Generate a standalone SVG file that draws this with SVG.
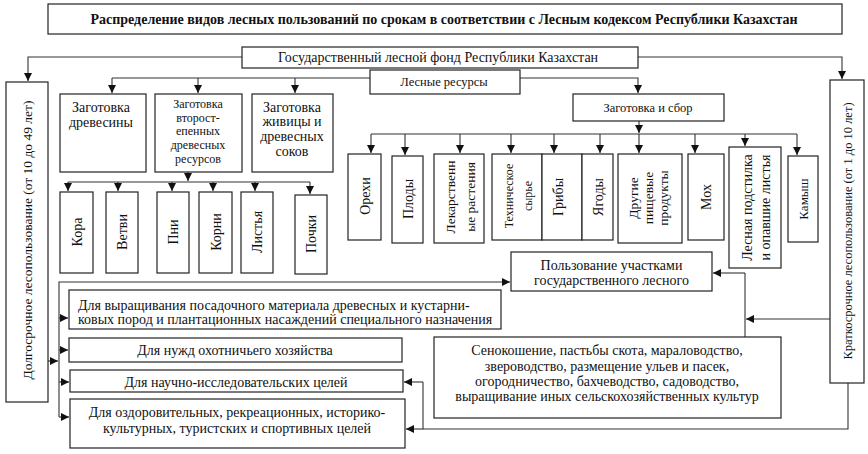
<svg xmlns="http://www.w3.org/2000/svg" width="868" height="454" viewBox="0 0 868 454" font-family="'Liberation Serif', 'DejaVu Serif', serif">
<defs>
<marker id="ah" markerUnits="userSpaceOnUse" markerWidth="8" markerHeight="8" refX="8" refY="4" orient="auto">
<path d="M0,0 L8,4 L0,8 z" fill="#111"/>
</marker>
<style>
rect{fill:#fff;stroke:#222;stroke-width:1.2}
text{font-family:'Liberation Serif','DejaVu Serif',serif;fill:#111;font-size:14px}
.c{text-anchor:middle}
.s{font-size:12.5px}
.b{font-weight:bold}
.t{font-size:12px}
#connectors path{fill:none;stroke:#333;stroke-width:1.1}
#connectors .a{marker-end:url(#ah)}
</style>
</defs>
<rect x="0" y="0" width="868" height="454" style="fill:#fff;stroke:none"/>

<g id="connectors">
<path class="a" d="M242,57 H28 V81"/>
<path class="a" d="M638,57 H842 V79"/>
<path d="M370,78 H112"/>
<path class="a" d="M112,78 V93"/>
<path class="a" d="M198,78 V93"/>
<path class="a" d="M295,78 V93"/>
<path class="a" d="M520,78 H638 V93"/>
<path class="a" d="M188,172 V181"/>
<path d="M68,182 H310"/>
<path class="a" d="M68,182 V191"/>
<path class="a" d="M118,182 V191"/>
<path class="a" d="M172,182 V191"/>
<path class="a" d="M213,182 V191"/>
<path class="a" d="M255,182 V191"/>
<path class="a" d="M310,182 V194"/>
<path class="a" d="M639,121 V133"/>
<path d="M371,134 H797"/>
<path class="a" d="M371,134 V153"/>
<path class="a" d="M405,134 V155"/>
<path class="a" d="M460,134 V153"/>
<path class="a" d="M511,134 V153"/>
<path class="a" d="M554,134 V153"/>
<path class="a" d="M600,134 V153"/>
<path class="a" d="M639,134 V153"/>
<path class="a" d="M695,134 V153"/>
<path class="a" d="M745,134 V146"/>
<path class="a" d="M797,134 V155"/>
<path class="a" d="M59,417 V282 H510"/>
<path class="a" d="M48,361 H58"/>
<path class="a" d="M59,318 H68"/>
<path class="a" d="M59,350 H68"/>
<path class="a" d="M59,382 H69"/>
<path class="a" d="M59,417 H69"/>
<path class="a" d="M830,319 H746"/>
<path d="M745,337 V273"/>
<path class="a" d="M745,273 H713"/>
<path d="M848,383 V429 H423 V382"/>
<path class="a" d="M423,382 H404"/>
<path class="a" d="M423,429 H406"/>
</g>

<g id="title"><rect x="48" y="4" width="794" height="30"/><text class="c b" x="444" y="24">Распределение видов лесных пользований по срокам в соответствии с Лесным кодексом Республики Казахстан</text></g>
<g id="glf"><rect x="242" y="47" width="396" height="21"/><text class="c" x="438" y="62">Государственный лесной фонд Республики Казахстан</text></g>
<g id="lr"><rect x="370" y="70" width="150" height="24"/><text class="c s" x="444" y="86">Лесные ресурсы</text></g>
<g id="zs"><rect x="573" y="94" width="151" height="27"/><text class="c s" x="648" y="112">Заготовка и сбор</text></g>

<g id="long"><rect x="6" y="82" width="42" height="320"/><text class="c" style="font-size:13.5px" transform="translate(27,240) rotate(-90)" y="5">Долгосрочное лесопользование (от 10 до 49 лет)</text></g>
<g id="short"><rect x="830" y="80" width="34" height="303"/><text class="c s" transform="translate(847,231) rotate(-90)" y="4.5">Краткосрочное лесопользование (от 1 до 10 лет)</text></g>

<g id="zd"><rect x="60" y="94" width="86" height="78"/><text class="c" x="101" y="112">Заготовка</text><text class="c" x="101" y="127">древесины</text></g>
<g id="zv"><rect x="155" y="94" width="87" height="78"/><text class="c t" x="198" y="108">Заготовка</text><text class="c t" x="198" y="121.7">второст-</text><text class="c t" x="198" y="135.4">епенных</text><text class="c t" x="198" y="149.1">древесных</text><text class="c t" x="198" y="162.8">ресурсов</text></g>
<g id="zj"><rect x="252" y="94" width="81" height="78"/><text class="c" x="292" y="112">Заготовка</text><text class="c" x="292" y="126">живицы и</text><text class="c" x="292" y="141">древесных</text><text class="c" x="292" y="156">соков</text></g>

<g id="kora"><rect x="60" y="192" width="33" height="81"/><text class="c" transform="translate(76.5,232) rotate(-90)" y="5">Кора</text></g>
<g id="vetvi"><rect x="106" y="192" width="32" height="81"/><text class="c" transform="translate(122,232) rotate(-90)" y="5">Ветви</text></g>
<g id="pni"><rect x="157" y="192" width="32" height="81"/><text class="c" transform="translate(173,232) rotate(-90)" y="5">Пни</text></g>
<g id="korni"><rect x="199" y="192" width="33" height="81"/><text class="c" transform="translate(215.5,232) rotate(-90)" y="5">Корни</text></g>
<g id="listya"><rect x="241" y="192" width="32" height="81"/><text class="c" transform="translate(257,232) rotate(-90)" y="5">Листья</text></g>
<g id="pochki"><rect x="295" y="195" width="32" height="79"/><text class="c" transform="translate(311,234) rotate(-90)" y="5">Почки</text></g>

<g id="orehi"><rect x="348" y="154" width="33" height="86"/><text class="c" transform="translate(364.5,196) rotate(-90)" y="5">Орехи</text></g>
<g id="plody"><rect x="392" y="156" width="31" height="87"/><text class="c" transform="translate(407.5,199) rotate(-90)" y="5">Плоды</text></g>
<g id="lek"><rect x="434" y="154" width="50" height="89"/><text class="c" style="font-size:13.5px" transform="translate(450,197) rotate(-90)" y="5">Лекарственн</text><text class="c" style="font-size:13.5px" transform="translate(470,197) rotate(-90)" y="5">ые растения</text></g>
<g id="tech"><rect x="492" y="154" width="50" height="86"/><text class="c" style="font-size:12px" transform="translate(508,196) rotate(-90)" y="4.5">Техническое</text><text class="c" style="font-size:12px" transform="translate(527,196) rotate(-90)" y="4.5">сырье</text></g>
<g id="griby"><rect x="542" y="154" width="40" height="86"/><text class="c" transform="translate(558,197) rotate(-90)" y="5">Грибы</text></g>
<g id="yagody"><rect x="582" y="154" width="31" height="86"/><text class="c" transform="translate(597.5,197) rotate(-90)" y="5">Ягоды</text></g>
<g id="drugie"><rect x="618" y="154" width="64" height="89"/><text class="c" style="font-size:13.5px" transform="translate(633,198) rotate(-90)" y="5">Другие</text><text class="c" style="font-size:13.5px" transform="translate(648,198) rotate(-90)" y="5">пищевые</text><text class="c" style="font-size:13.5px" transform="translate(663,198) rotate(-90)" y="5">продукты</text></g>
<g id="moh"><rect x="688" y="154" width="36" height="86"/><text class="c" transform="translate(706,197) rotate(-90)" y="5">Мох</text></g>
<g id="podst"><rect x="729" y="147" width="52" height="121"/><text class="c" transform="translate(747,207.5) rotate(-90)" y="5">Лесная подстилка</text><text class="c" transform="translate(765,207.5) rotate(-90)" y="5">и опавшие листья</text></g>
<g id="kamysh"><rect x="788" y="156" width="30" height="86"/><text class="c" style="font-size:13px" transform="translate(803,199) rotate(-90)" y="4.5">Камыш</text></g>

<g id="polz"><rect x="511" y="252" width="201" height="39"/><text class="c" x="611.5" y="270">Пользование участками</text><text class="c" x="611.5" y="285">государственного лесного</text></g>
<g id="vyr"><rect x="69" y="290" width="432" height="39"/><text x="78" y="310">Для выращивания посадочного материала древесных и кустарни-</text><text x="78" y="323.5">ковых пород и плантационных насаждений специального назначения</text></g>
<g id="ohot"><rect x="69" y="338" width="333" height="24"/><text class="c" x="235" y="355">Для нужд охотничьего хозяйства</text></g>
<g id="nauch"><rect x="70" y="370" width="333" height="22"/><text class="c" x="236" y="386.5">Для научно-исследовательских целей</text></g>
<g id="ozd"><rect x="70" y="399" width="335" height="49"/><text class="c" x="237" y="417">Для оздоровительных, рекреационных, историко-</text><text class="c" x="237" y="433">культурных, туристских и спортивных целей</text></g>
<g id="seno"><rect x="434" y="337" width="347" height="81"/><text class="c" x="607" y="355">Сенокошение, пастьбы скота, мараловодство,</text><text class="c" x="607" y="371">звероводство, размещение ульев и пасек,</text><text class="c" x="607" y="386">огородничество, бахчеводство, садоводство,</text><text class="c" x="607" y="401">выращивание иных сельскохозяйственных культур</text></g>
</svg>
